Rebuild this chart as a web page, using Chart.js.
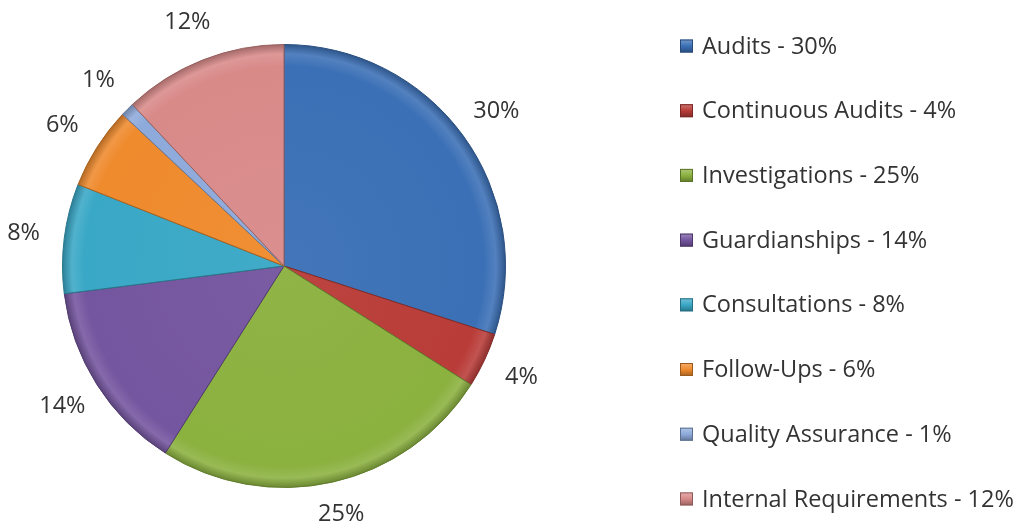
<!DOCTYPE html>
<html lang="en">
<head>
<meta charset="UTF-8">
<title>Workload by category</title>
<script src="https://cdn.jsdelivr.net/npm/chart.js"></script>
<style>
  html, body { margin: 0; padding: 0; background: #fff; }
  #wrap { width: 1018px; height: 529px; position: relative; }
</style>
</head>
<body>
<div id="wrap"><canvas id="pie"></canvas></div>
<script>
  // data
  const categories = ['Audits', 'Continuous Audits', 'Investigations', 'Guardianships',
    'Consultations', 'Follow-Ups', 'Quality Assurance', 'Internal Requirements'];
  const shares = [30, 4, 25, 14, 8, 6, 1, 12];
  const sliceColors = ['#3b70b6', '#b93c38', '#8bb13f', '#74559f', '#39a8c6', '#ef8a2d', '#8eaadb', '#d88a89'];

  const FONT = '"Open Sans", "Liberation Sans", sans-serif';
  let fontSize = 21;

  function shade(hex, amt) {
    let n = parseInt(hex.slice(1), 16);
    let r = (n >> 16) & 255, g = (n >> 8) & 255, b = n & 255;
    const f = c => Math.max(0, Math.min(255, Math.round(amt < 0 ? c * (1 + amt) : c + (255 - c) * amt)));
    return 'rgb(' + f(r) + ',' + f(g) + ',' + f(b) + ')';
  }

  // radial gradient so the slices get a bit of the bevelled look
  function sliceFill(ctx) {
    const chart = ctx.chart, area = chart.chartArea;
    const base = sliceColors[ctx.dataIndex];
    if (!area) return base;
    const cx = (area.left + area.right) / 2, cy = (area.top + area.bottom) / 2;
    const r = Math.min(area.width, area.height) / 2;
    const g = chart.ctx.createRadialGradient(cx, cy, 0, cx, cy, r);
    g.addColorStop(0, shade(base, 0.04));
    g.addColorStop(0.9, base);
    g.addColorStop(0.955, shade(base, 0.12));
    g.addColorStop(1, shade(base, -0.25));
    return g;
  }

  const outerLabels = {
    id: 'outerLabels',
    afterDatasetsDraw(chart) {
      const c = chart.ctx;
      const meta = chart.getDatasetMeta(0);
      c.save();
      c.font = fontSize + 'px ' + FONT;
      c.fillStyle = '#333333';
      c.textAlign = 'center';
      c.textBaseline = 'middle';
      meta.data.forEach((arc, i) => {
        const p = arc.getProps(['x', 'y', 'startAngle', 'endAngle', 'outerRadius'], true);
        const mid = (p.startAngle + p.endAngle) / 2;
        const d = p.outerRadius + 41;
        let x = p.x + Math.cos(mid) * d;
        let y = p.y + Math.sin(mid) * d;
        y = Math.min(y, chart.height - 15);
        c.fillText(shares[i] + '%', x, y);
      });
      c.restore();
    }
  };

  const sideLegend = {
    id: 'sideLegend',
    beforeDraw(chart) {
      // size the text so the longest legend entry spans what the picture shows
      const c = chart.ctx;
      c.save();
      c.font = '20px ' + FONT;
      const w = c.measureText('Internal Requirements - 12%').width;
      c.restore();
      fontSize = Math.round(20 * 309 / w * 2) / 2;
    },
    afterDraw(chart) {
      const c = chart.ctx;
      const x0 = 680, top = 46, step = 64.7, box = 13;
      c.save();
      c.font = fontSize + 'px ' + FONT;
      c.textBaseline = 'middle';
      categories.forEach((name, i) => {
        const y = top + i * step;
        const base = sliceColors[i];
        const g = c.createLinearGradient(0, y - box / 2, 0, y + box / 2);
        g.addColorStop(0, shade(base, 0.3));
        g.addColorStop(0.5, base);
        g.addColorStop(1, shade(base, -0.3));
        c.fillStyle = g;
        c.fillRect(x0, y - box / 2, box, box);
        c.strokeStyle = shade(base, -0.35);
        c.lineWidth = 1;
        c.strokeRect(x0 + 0.5, y - box / 2 + 0.5, box - 1, box - 1);
        c.fillStyle = '#333333';
        c.fillText(name + ' - ' + shares[i] + '%', x0 + 22, y + 1);
      });
      c.restore();
    }
  };

  new Chart(document.getElementById('pie'), {
    type: 'pie',
    data: {
      labels: categories,
      datasets: [{
        data: shares,
        backgroundColor: sliceFill,
        borderColor: sliceColors.map(col => shade(col, -0.3)),
        borderWidth: 1,
        hoverOffset: 0
      }]
    },
    options: {
      responsive: true,
      maintainAspectRatio: false,
      animation: false,
      layout: { padding: { left: 62, right: 512, top: 44, bottom: 41 } },
      plugins: {
        legend: { display: false },
        tooltip: { enabled: false }
      }
    },
    plugins: [sideLegend, outerLabels]
  });
</script>
</body>
</html>
